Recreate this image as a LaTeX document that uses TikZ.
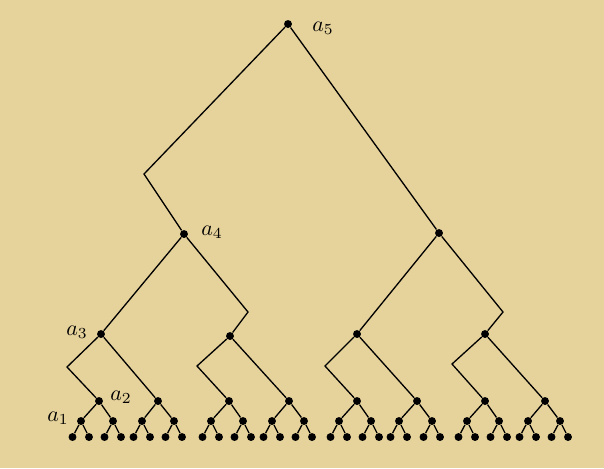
\documentclass[tikz,border=0pt]{standalone}
\definecolor{bg}{RGB}{230,210,155}
\begin{document}
\begin{tikzpicture}[x=0.455pt,y=-0.455pt,
  dot/.style={circle,fill=black,inner sep=0pt,minimum size=3.6pt},
  edge/.style={line width=0.6pt},
  lbl/.style={inner sep=0pt}]
\fill[bg] (0,0) rectangle (604,468);
% top levels
\node[dot] (a5) at (288,24) {};
\coordinate (b5) at (144,174);
\node[dot] (a4) at (184,234) {};
\node[dot] (r4) at (439,233) {};
\node[dot] (a3) at (101,334) {};
\coordinate (b4) at (248,312);
\node[dot] (m3) at (230,336) {};
\node[dot] (n3) at (357,334) {};
\coordinate (c4) at (503,312);
\node[dot] (r3) at (485,334) {};
\draw[edge] (a5) -- (b5) -- (a4);
\draw[edge] (a5) -- (r4);
\draw[edge] (a4) -- (a3);
\draw[edge] (a4) -- (b4) -- (m3);
\draw[edge] (r4) -- (n3);
\draw[edge] (r4) -- (c4) -- (r3);
% level 2 with bends
\coordinate (ba3) at (67,367);
\coordinate (bm3) at (197,366);
\coordinate (bn3) at (325,366);
\coordinate (br3) at (452,364);
\foreach \p/\l/\r/\lx/\rx in {a3/a2/q1/99/158, m3/q2/q3/229/289, n3/q4/q5/357/417, r3/q6/q7/485/545}{
  \node[dot] (\l) at (\lx,401) {};
  \node[dot] (\r) at (\rx,401) {};
  \draw[edge] (\p) -- (b\p) -- (\l);
  \draw[edge] (\p) -- (\r);
}
% level 1 and leaves
\foreach \p/\x [count=\i] in {a2/81, a2/113, q1/142, q1/174, q2/211, q2/243, q3/272, q3/304,
  q4/339, q4/371, q5/399, q5/432, q6/467, q6/499, q7/528, q7/560}{
  \node[dot] (u\i) at (\x,421) {};
  \draw[edge] (\p) -- (u\i);
  \node[dot] (v\i) at (\x-8.5,437) {};
  \node[dot] (w\i) at (\x+8,437) {};
  \draw[edge] (u\i) -- (v\i);
  \draw[edge] (u\i) -- (w\i);
}
% labels
\node[lbl] (la5) at (323,28) {$a_5$};
\node[lbl] (la4) at (212,232) {$a_4$};
\node[lbl] (la3) at (77,332) {$a_3$};
\node[lbl] (la2) at (121,397) {$a_2$};
\node[lbl] (la1) at (58,418) {$a_1$};
\end{tikzpicture}
\end{document}
